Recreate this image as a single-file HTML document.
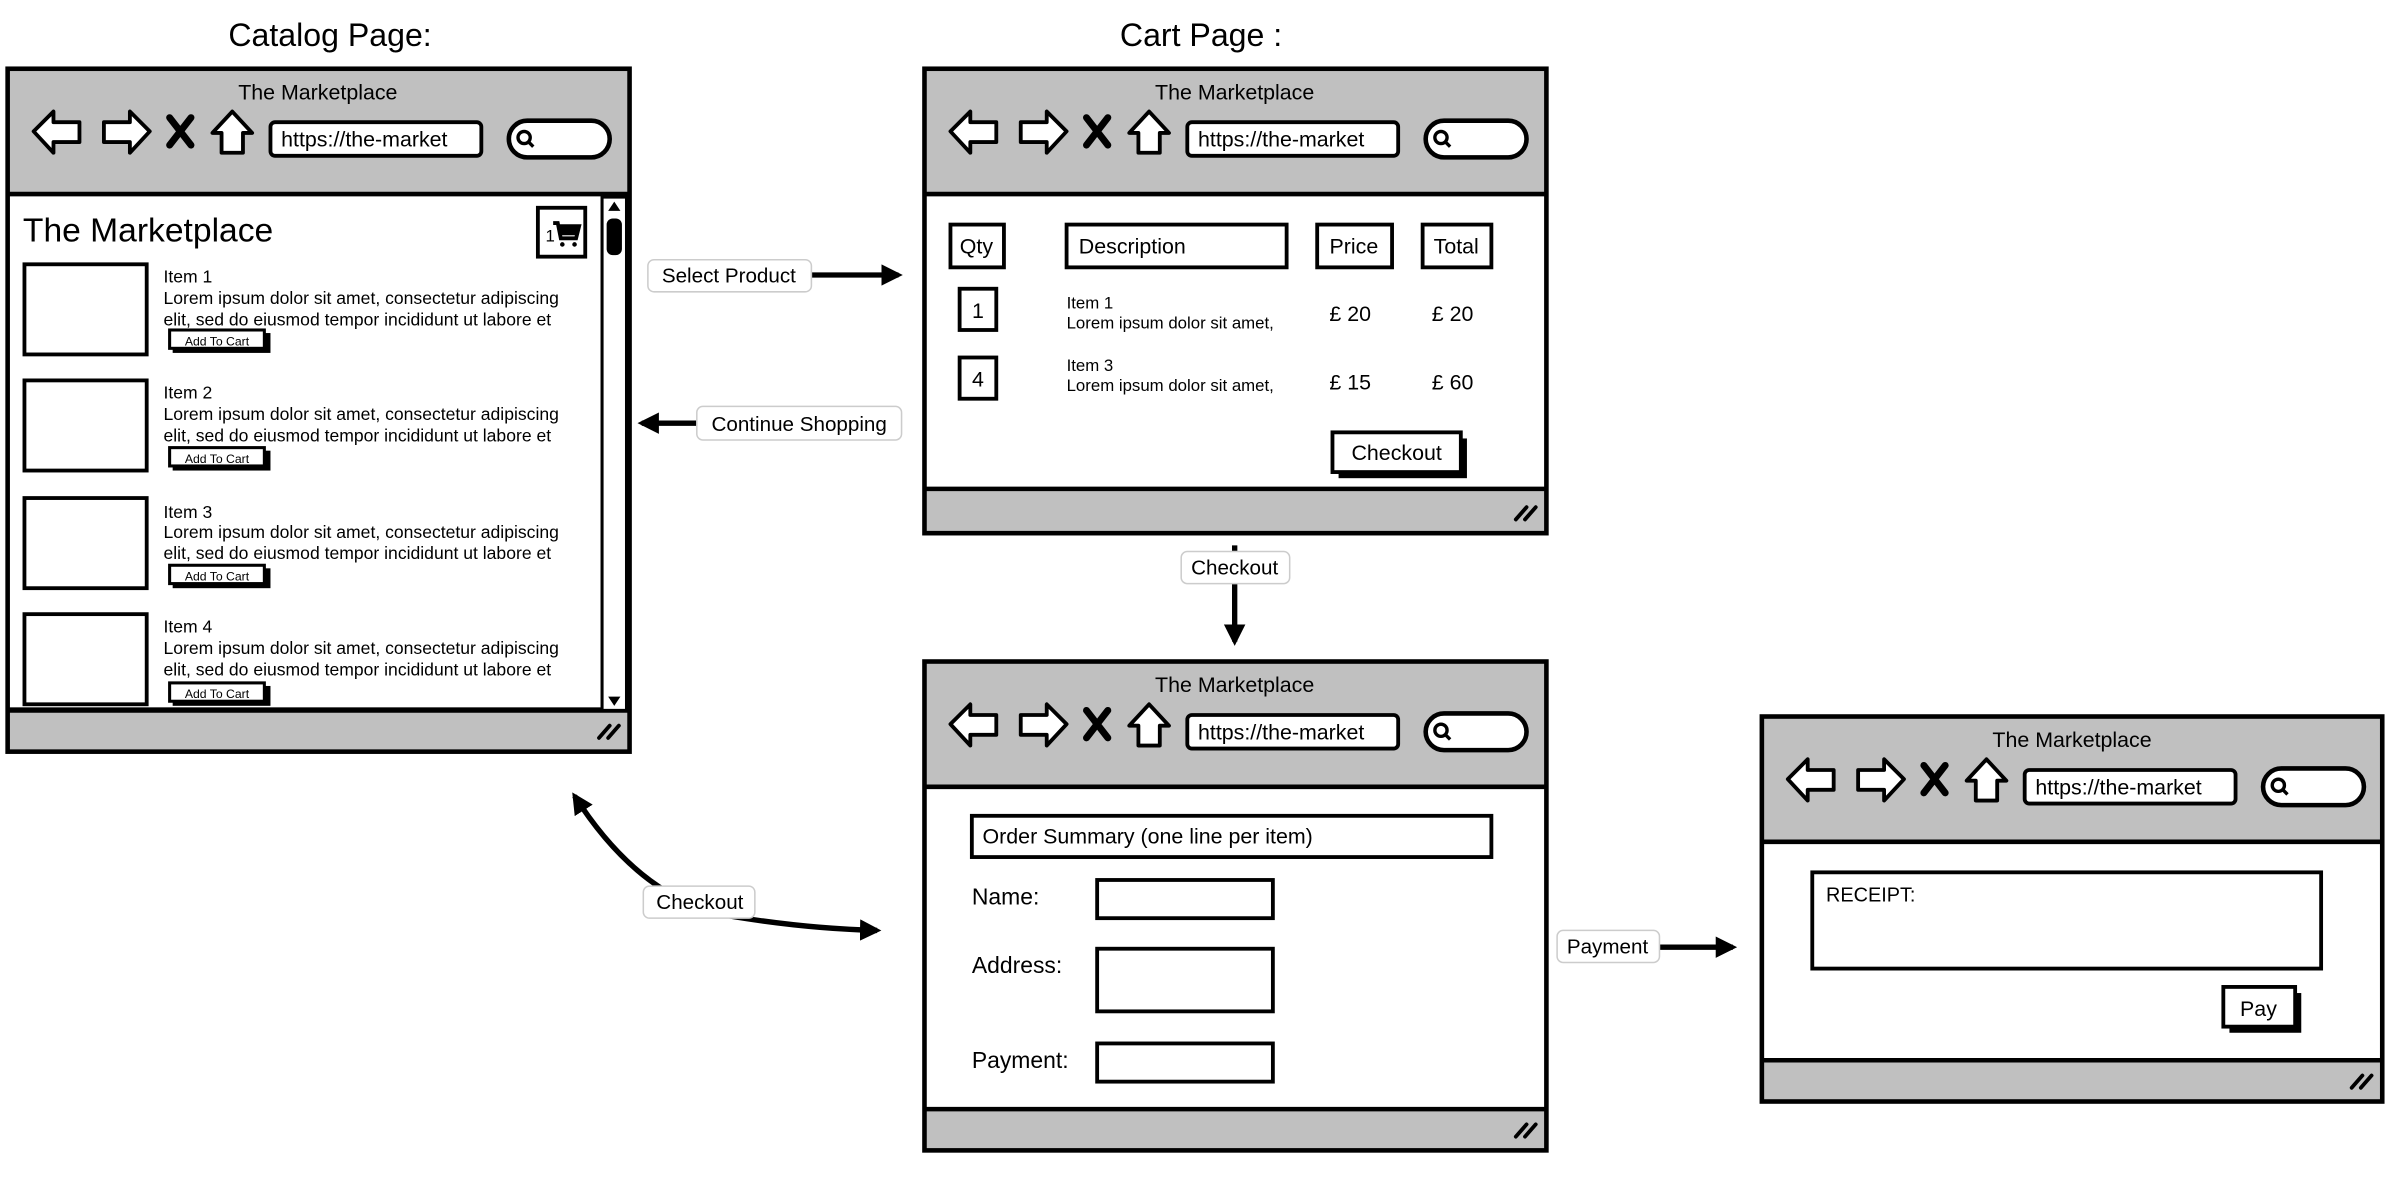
<!DOCTYPE html>
<html><head><meta charset="utf-8"><style>
html,body{margin:0;padding:0;background:#fff;}
svg{display:block;}
text{font-family:"Liberation Sans",sans-serif;fill:#000;}
</style></head><body>
<svg width="2396" height="1184" viewBox="0 0 1568 775" preserveAspectRatio="none" xmlns="http://www.w3.org/2000/svg">
<defs>
<g id="hdr">
<rect x="0" y="0" width="407" height="82" fill="#c0c0c0"/>
<polygon points="17,41 30,28 30,35 47,35 47,48 30,48 30,55" fill="#fff" stroke="#000" stroke-width="2.5" stroke-linejoin="round"/>
<polygon points="93,41 80,28 80,35 63,35 63,48 80,48 80,55" fill="#fff" stroke="#000" stroke-width="2.5" stroke-linejoin="round"/>
<line x1="106" y1="32" x2="120" y2="50" stroke="#000" stroke-width="4.5" stroke-linecap="round"/>
<line x1="120" y1="32" x2="106" y2="50" stroke="#000" stroke-width="4.5" stroke-linecap="round"/>
<polygon points="147,28 160,42 154,42 154,55 140,55 140,42 134,42" fill="#fff" stroke="#000" stroke-width="2.5" stroke-linejoin="round"/>
<rect x="172" y="35" width="138" height="22" rx="3" fill="#fff" stroke="#000" stroke-width="2.5"/>
<rect x="328" y="34" width="66" height="24" rx="12" fill="#fff" stroke="#000" stroke-width="3"/>
<circle cx="338" cy="45" r="4" fill="none" stroke="#000" stroke-width="2.2"/>
<line x1="341" y1="48" x2="344" y2="51" stroke="#000" stroke-width="2.2"/>
<line x1="0" y1="82" x2="407" y2="82" stroke="#000" stroke-width="3"/>
</g>
<g id="grip">
<line x1="0" y1="8" x2="7" y2="0" stroke="#000" stroke-width="2.5" stroke-linecap="round"/>
<line x1="6" y1="8" x2="13" y2="0" stroke="#000" stroke-width="2.5" stroke-linecap="round"/>
</g>
<marker id="ah" viewBox="0 0 10 10" refX="8" refY="5" markerWidth="4" markerHeight="4" orient="auto-start-reverse">
<path d="M0,0 L10,5 L0,10 z" fill="#000"/>
</marker>
</defs>

<text x="216" y="30" font-size="21" text-anchor="middle">Catalog Page:</text>
<text x="786" y="30" font-size="21" text-anchor="middle">Cart Page :</text>

<!-- Catalog frame -->
<g transform="translate(5,45)">
<rect x="0" y="0" width="407" height="447" fill="#fff"/>
<use href="#hdr"/>
<text x="203" y="20" font-size="14" text-anchor="middle">The Marketplace</text>
<text x="179" y="51" font-size="14">https://the-market</text>
<rect x="0" y="420" width="407" height="27" fill="#c0c0c0"/>
<line x1="0" y1="420" x2="407" y2="420" stroke="#000" stroke-width="3"/>
<use href="#grip" transform="translate(387,430)"/>
<rect x="389" y="84" width="16" height="336" fill="#fff" stroke="#000" stroke-width="2"/>
<polygon points="397,87 393,93 401,93" fill="#000"/>
<polygon points="397,417 393,411 401,411" fill="#000"/>
<rect x="392" y="98" width="10" height="24" rx="4" fill="#000"/>
<rect x="0" y="0" width="407" height="447" fill="none" stroke="#000" stroke-width="3"/>
</g>
<text x="15" y="158" font-size="22">The Marketplace</text>
<rect x="352" y="136" width="31" height="32" fill="#fff" stroke="#000" stroke-width="2.5"/>
<text x="357" y="158" font-size="11">1</text>
<path d="M362,146 h3 l2,10 h10 l2,-8 h-13" fill="none" stroke="#000" stroke-width="2.5"/>
<rect x="366" y="148" width="12" height="6" fill="#000"/>
<circle cx="368" cy="160" r="1.5" fill="#000"/><circle cx="376" cy="160" r="1.5" fill="#000"/>

<g font-size="11.5">
<rect x="16" y="173" width="80" height="59" fill="#fff" stroke="#000" stroke-width="2.5"/>
<text x="107" y="185">Item 1</text>
<text x="107" y="199">Lorem ipsum dolor sit amet, consectetur adipiscing</text>
<text x="107" y="213">elit, sed do eiusmod tempor incididunt ut labore et</text>
<rect x="113" y="218" width="64" height="13" fill="#000"/><rect x="111" y="216" width="62" height="12" fill="#fff" stroke="#000" stroke-width="2"/>
<text x="142" y="226" font-size="8" text-anchor="middle">Add To Cart</text>

<rect x="16" y="249" width="80" height="59" fill="#fff" stroke="#000" stroke-width="2.5"/>
<text x="107" y="261">Item 2</text>
<text x="107" y="275">Lorem ipsum dolor sit amet, consectetur adipiscing</text>
<text x="107" y="289">elit, sed do eiusmod tempor incididunt ut labore et</text>
<rect x="113" y="295" width="64" height="13" fill="#000"/><rect x="111" y="293" width="62" height="12" fill="#fff" stroke="#000" stroke-width="2"/>
<text x="142" y="303" font-size="8" text-anchor="middle">Add To Cart</text>

<rect x="16" y="326" width="80" height="59" fill="#fff" stroke="#000" stroke-width="2.5"/>
<text x="107" y="339">Item 3</text>
<text x="107" y="352">Lorem ipsum dolor sit amet, consectetur adipiscing</text>
<text x="107" y="366">elit, sed do eiusmod tempor incididunt ut labore et</text>
<rect x="113" y="372" width="64" height="13" fill="#000"/><rect x="111" y="370" width="62" height="12" fill="#fff" stroke="#000" stroke-width="2"/>
<text x="142" y="380" font-size="8" text-anchor="middle">Add To Cart</text>

<rect x="16" y="402" width="80" height="59" fill="#fff" stroke="#000" stroke-width="2.5"/>
<text x="107" y="414">Item 4</text>
<text x="107" y="428">Lorem ipsum dolor sit amet, consectetur adipiscing</text>
<text x="107" y="442">elit, sed do eiusmod tempor incididunt ut labore et</text>
<rect x="113" y="449" width="64" height="13" fill="#000"/><rect x="111" y="447" width="62" height="12" fill="#fff" stroke="#000" stroke-width="2"/>
<text x="142" y="457" font-size="8" text-anchor="middle">Add To Cart</text>
</g>
<rect x="5" y="463" width="388" height="2" fill="#000"/>

<!-- Cart frame -->
<g transform="translate(605,45)">
<rect x="0" y="0" width="407" height="304" fill="#fff"/>
<use href="#hdr"/>
<text x="203" y="20" font-size="14" text-anchor="middle">The Marketplace</text>
<text x="179" y="51" font-size="14">https://the-market</text>
<rect x="0" y="275" width="407" height="29" fill="#c0c0c0"/>
<line x1="0" y1="275" x2="407" y2="275" stroke="#000" stroke-width="3"/>
<use href="#grip" transform="translate(387,287)"/>
<rect x="0" y="0" width="407" height="304" fill="none" stroke="#000" stroke-width="3"/>
</g>
<g font-size="14" stroke-width="2.5">
<rect x="622" y="147" width="35" height="28" fill="#fff" stroke="#000"/><text x="639" y="166" text-anchor="middle">Qty</text>
<rect x="698" y="147" width="144" height="28" fill="#fff" stroke="#000"/><text x="706" y="166">Description</text>
<rect x="862" y="147" width="49" height="28" fill="#fff" stroke="#000"/><text x="886" y="166" text-anchor="middle">Price</text>
<rect x="931" y="147" width="45" height="28" fill="#fff" stroke="#000"/><text x="953" y="166" text-anchor="middle">Total</text>
<rect x="628" y="189" width="24" height="27" fill="#fff" stroke="#000"/><text x="640" y="208" text-anchor="middle">1</text>
<rect x="628" y="234" width="24" height="27" fill="#fff" stroke="#000"/><text x="640" y="253" text-anchor="middle">4</text>
<text x="698" y="202" font-size="11">Item 1</text><text x="698" y="215" font-size="11">Lorem ipsum dolor sit amet,</text>
<text x="698" y="243" font-size="11">Item 3</text><text x="698" y="256" font-size="11">Lorem ipsum dolor sit amet,</text>
<text x="870" y="210">£ 20</text><text x="937" y="210">£ 20</text>
<text x="870" y="255">£ 15</text><text x="937" y="255">£ 60</text>
<rect x="876" y="287" width="84" height="26" fill="#000"/>
<rect x="872" y="283" width="84" height="26" fill="#fff" stroke="#000"/><text x="914" y="301" text-anchor="middle">Checkout</text>
</g>

<!-- Order frame -->
<g transform="translate(605,433)">
<rect x="0" y="0" width="407" height="320" fill="#fff"/>
<use href="#hdr"/>
<text x="203" y="20" font-size="14" text-anchor="middle">The Marketplace</text>
<text x="179" y="51" font-size="14">https://the-market</text>
<rect x="0" y="293" width="407" height="27" fill="#c0c0c0"/>
<line x1="0" y1="293" x2="407" y2="293" stroke="#000" stroke-width="3"/>
<use href="#grip" transform="translate(387,303)"/>
<rect x="0" y="0" width="407" height="320" fill="none" stroke="#000" stroke-width="3"/>
</g>
<g font-size="15" stroke-width="2.5">
<rect x="636" y="534" width="340" height="27" fill="#fff" stroke="#000"/><text x="643" y="552" font-size="14">Order Summary (one line per item)</text>
<text x="636" y="592">Name:</text><rect x="718" y="576" width="115" height="25" fill="#fff" stroke="#000"/>
<text x="636" y="637">Address:</text><rect x="718" y="621" width="115" height="41" fill="#fff" stroke="#000"/>
<text x="636" y="699">Payment:</text><rect x="718" y="683" width="115" height="25" fill="#fff" stroke="#000"/>
</g>

<!-- Receipt frame -->
<g transform="translate(1153,469)">
<rect x="0" y="0" width="406" height="252" fill="#fff"/>
<use href="#hdr"/>
<text x="203" y="20" font-size="14" text-anchor="middle">The Marketplace</text>
<text x="179" y="51" font-size="14">https://the-market</text>
<rect x="0" y="225" width="406" height="27" fill="#c0c0c0"/>
<line x1="0" y1="225" x2="406" y2="225" stroke="#000" stroke-width="3"/>
<use href="#grip" transform="translate(386,235)"/>
<rect x="0" y="0" width="406" height="252" fill="none" stroke="#000" stroke-width="3"/>
</g>
<rect x="1186" y="571" width="333" height="63" fill="#fff" stroke="#000" stroke-width="2.5"/>
<text x="1195" y="590" font-size="13">RECEIPT:</text>
<rect x="1459" y="650" width="47" height="26" fill="#000"/>
<rect x="1455" y="646" width="47" height="26" fill="#fff" stroke="#000" stroke-width="2.5"/>
<text x="1478" y="665" font-size="14" text-anchor="middle">Pay</text>

<!-- connectors -->
<g stroke="#000" stroke-width="3.5" fill="none">
<line x1="531" y1="180" x2="588" y2="180" marker-end="url(#ah)"/>
<line x1="456" y1="277" x2="420" y2="277" marker-end="url(#ah)"/>
<line x1="808" y1="357" x2="808" y2="420" marker-end="url(#ah)"/>
<path d="M376,521 Q420,590 480,600 Q530,608 574,609" marker-start="url(#ah)" marker-end="url(#ah)"/>
<line x1="1086" y1="620" x2="1134" y2="620" marker-end="url(#ah)"/>
</g>
<g font-size="13.5">
<rect x="424" y="170" width="107" height="21" rx="4" fill="#fff" stroke="#ccc"/><text x="477" y="185" text-anchor="middle">Select Product</text>
<rect x="456" y="266" width="134" height="22" rx="4" fill="#fff" stroke="#ccc"/><text x="523" y="282" text-anchor="middle">Continue Shopping</text>
<rect x="773" y="361" width="71" height="21" rx="4" fill="#fff" stroke="#ccc"/><text x="808" y="376" text-anchor="middle">Checkout</text>
<rect x="421" y="580" width="73" height="21" rx="4" fill="#fff" stroke="#ccc"/><text x="458" y="595" text-anchor="middle">Checkout</text>
<rect x="1019" y="609" width="67" height="21" rx="4" fill="#fff" stroke="#ccc"/><text x="1052" y="624" text-anchor="middle">Payment</text>
</g>
</svg>
</body></html>
